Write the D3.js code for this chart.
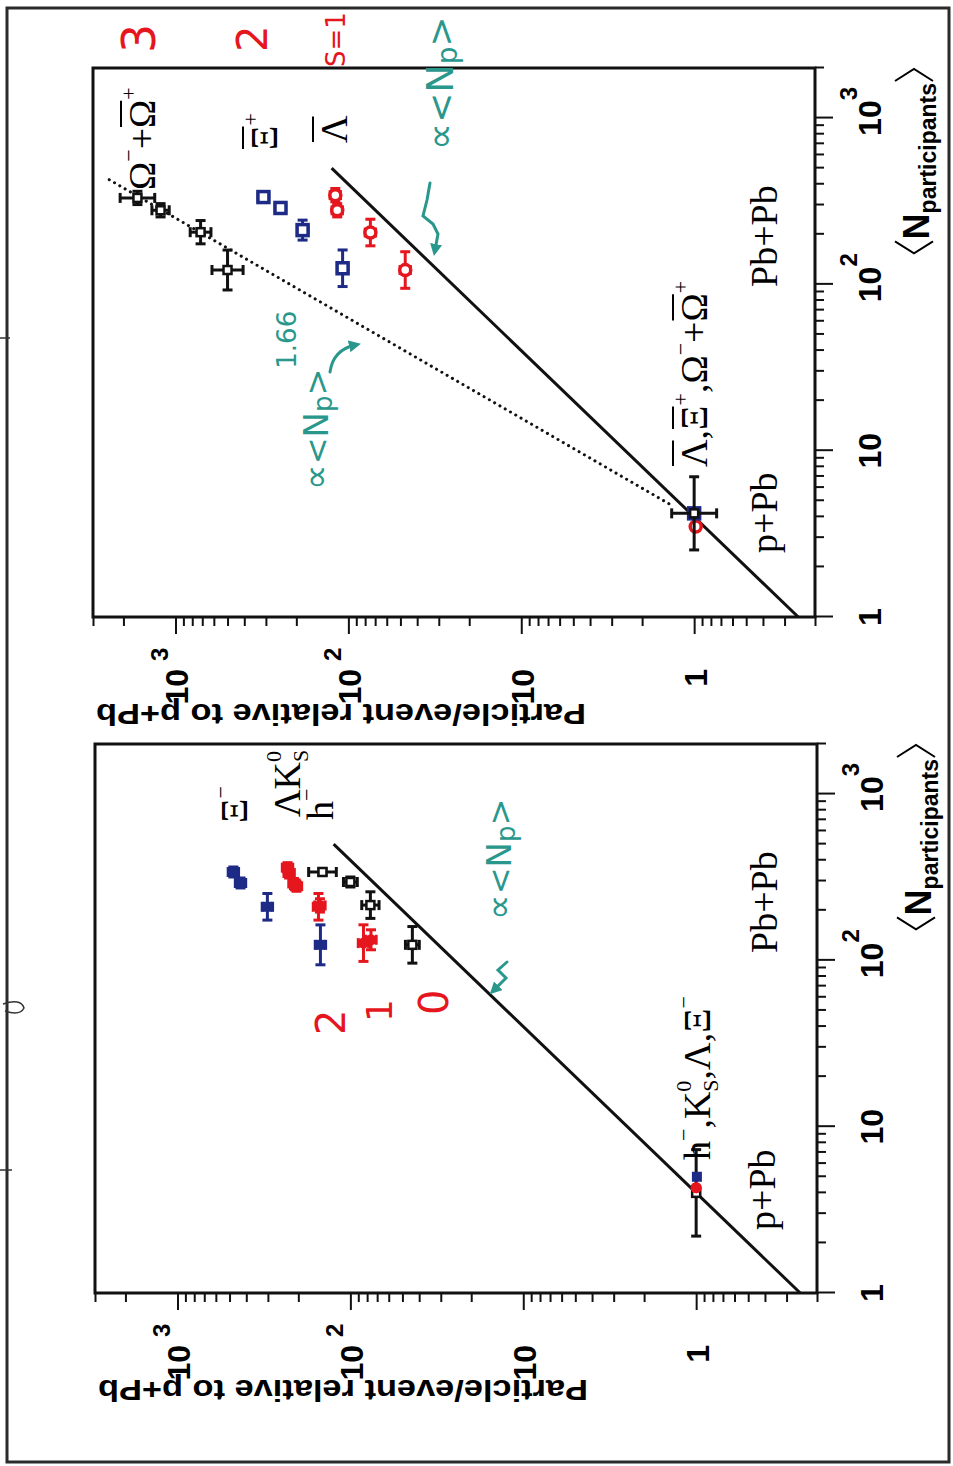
<!DOCTYPE html>
<html>
<head>
<meta charset="utf-8">
<script src="https://cdn.jsdelivr.net/npm/d3@7"></script>
<style>
  body { margin: 0; background: #fff; }
  svg { display: block; }
  .sans { font-family: "Liberation Sans", Arial, sans-serif; font-weight: bold; }
  .serif { font-family: "Liberation Serif", "Times New Roman", serif; }
  .hand { font-family: "DejaVu Sans", sans-serif; }
</style>
</head>
<body>
<div id="frame_div"></div>
<script>
// Scanned figure, turned 90 degrees: each panel is drawn in its own
// (unrotated) frame and the whole group is rotated -90.

// ---- data: <N_part>, yield relative to p+Pb ----
// errors are half widths in decades (log10)

// left panel (drawn lower): h-, K0s, Lambda, Xi-
const hmN = [4.0, 124, 215, 296, 340];
const hmY = [1.0, 43.8, 76.6, 100, 145];
const hmEn = [0.26, 0.11, 0.08, 0.03, 0.02];
const hmEy = [0.02, 0.04, 0.05, 0.04, 0.08];

const lamN = [4.3, 127, 210, 279, 361];
const lamY = [1.0, 84, 153, 205, 231];
const lamEn = [0, 0.11, 0.08, 0.03, 0.03];
const lamEy = [0, 0.03, 0.03, 0.03, 0.03];

const k0sN = [4.3, 133, 214, 290, 335];
const k0sY = [1.0, 76, 150, 212, 226];
const k0sEn = [0, 0.06, 0.04, 0.03, 0.03];
const k0sEy = [0, 0.03, 0.03, 0.03, 0.03];

const xiN = [5.0, 124, 210, 292, 340];
const xiY = [0.99, 149, 302, 432, 475];
const xiEn = [0, 0.12, 0.08, 0.03, 0.03];
const xiEy = [0, 0.03, 0.03, 0.03, 0.03];

// right panel (drawn upper): Omega + anti-Omega, anti-Xi, anti-Lambda
const omN = [4.2, 122, 206, 279, 331];
const omY = [1.0, 500, 716, 1220, 1660];
const omEn = [0.22, 0.12, 0.07, 0.04, 0.04];
const omEy = [0.13, 0.09, 0.06, 0.05, 0.1];

const xibN = [4.2, 125, 212, 288, 335];
const xibY = [1.0, 108, 184, 247, 310];
const xibEn = [0, 0.11, 0.06, 0.03, 0.03];
const xibEy = [0, 0.03, 0.03, 0.03, 0.03];

const lambN = [3.5, 122, 205, 279, 344];
const lambY = [0.98, 46.9, 74.6, 116, 119];
const lambEn = [0, 0.11, 0.08, 0.04, 0.04];
const lambEy = [0, 0.03, 0.03, 0.03, 0.03];

// reference lines (end points)
const propN = [1, 500], propY = [0.25, 125];        // ~ <Np>
const fitN = [4.8, 440], fitY = [1.4, 2550];        // ~ <Np>^1.66

// ticks
const xMajor = [1, 10, 100, 1000];
const xMajorSup = ["", "", "2", "3"];
const xMinor = [2, 3, 4, 5, 6, 7, 8, 9, 20, 30, 40, 50, 60, 70, 80, 90,
                200, 300, 400, 500, 600, 700, 800, 900, 2000];
const yMajor = [1, 10, 100, 1000];
const yMajorSup = ["", "", "2", "3"];
const yMinor = [0.2, 0.3, 0.4, 0.5, 0.6, 0.7, 0.8, 0.9, 2, 3, 4, 5, 6, 7, 8, 9,
                20, 30, 40, 50, 60, 70, 80, 90, 200, 300, 400, 500, 600, 700, 800, 900,
                2000, 3000];

// ---- layout ----
const W = 549, H = 722;
const BLUE = "#1d2a86", RED = "#e5161d", TEAL = "#2a978c";

const X_SCALE = d3.scaleLog().domain([1, 2000]).range([0, W]);
const Y_SCALE = d3.scaleLog().domain([0.2, 3000]).range([H, 0]);

const FRAME = d3.select("#frame_div")
  .append("svg")
    .attr("width", 953)
    .attr("height", 1466);

const defs = FRAME.append("defs");
defs.append("marker")
    .attr("id", "head")
    .attr("viewBox", "0 0 10 10")
    .attr("refX", 5).attr("refY", 5)
    .attr("markerWidth", 4).attr("markerHeight", 4)
    .attr("orient", "auto")
  .append("path")
    .attr("d", "M0,0 L10,5 L0,10 z")
    .attr("fill", TEAL);

// outer border of the scan + a few pen marks on the left edge
FRAME.append("rect")
    .attr("x", 7).attr("y", 8).attr("width", 942).attr("height", 1454)
    .attr("fill", "none").attr("stroke", "#2b2b2b").attr("stroke-width", 3);
FRAME.append("path")
    .attr("d", "M0,338 L10,338 M0,1170 L12,1170 M3,1004 q18,-6 21,4 q-4,8 -19,3")
    .attr("fill", "none").attr("stroke", "#333").attr("stroke-width", 1.5);

// lay out a run of text pieces (sup/sub, overbars, brackets)
function rich(parent, px, py, segs, opts) {
  const g = parent.append("g").attr("class", opts.cls).attr("fill", opts.color || "#000");
  let cx = 0;
  segs.forEach(s => {
    if (s.br) {
      const w = s.w;
      const pts = s.br === "l"
        ? [[w - 2, -34], [2, -15], [w - 2, 4]]
        : [[2, -34], [w - 2, -15], [2, 4]];
      g.append("polyline")
        .attr("points", pts.map(p => (cx + p[0]) + "," + p[1]).join(" "))
        .attr("fill", "none").attr("stroke", opts.color || "#000").attr("stroke-width", 2);
      cx += w;
      return;
    }
    const t = g.append("text")
      .attr("x", cx).attr("y", s.dy || 0)
      .attr("font-size", s.s)
      .text(s.t);
    if (s.len) t.attr("textLength", s.len).attr("lengthAdjust", "spacingAndGlyphs");
    const w = s.len || t.node().getComputedTextLength();
    if (s.bar) {
      g.append("line")
        .attr("x1", cx + 1).attr("x2", cx + w - 1)
        .attr("y1", -s.bar).attr("y2", -s.bar)
        .attr("stroke", opts.color || "#000").attr("stroke-width", 2);
    }
    if (!s.stack) cx += w;
  });
  const shift = opts.anchor === "end" ? -cx : 0;
  g.attr("transform", `translate(${px},${py})` + (opts.rot ? ` rotate(${opts.rot})` : "") +
    ` translate(${shift},0)`);
  return g;
}

function drawAxes(g) {
  const styleAxis = a => {
    a.select(".domain").remove();
    a.selectAll("line").attr("stroke", "#111").attr("stroke-width", 2);
  };
  g.append("g").attr("transform", `translate(0,${H})`)
    .call(d3.axisBottom(X_SCALE).tickValues(xMinor).tickSize(9).tickFormat(""))
    .call(styleAxis);
  g.append("g").attr("transform", `translate(0,${H})`)
    .call(d3.axisBottom(X_SCALE).tickValues(xMajor).tickSize(18).tickFormat(""))
    .call(styleAxis);
  g.append("g")
    .call(d3.axisLeft(Y_SCALE).tickValues(yMinor).tickSize(9).tickFormat(""))
    .call(styleAxis);
  g.append("g")
    .call(d3.axisLeft(Y_SCALE).tickValues(yMajor).tickSize(17).tickFormat(""))
    .call(styleAxis);

  // tick labels: 1, 10, 10^2, 10^3
  xMajor.forEach((v, i) => {
    const t = g.append("text").attr("class", "sans")
      .attr("x", X_SCALE(v)).attr("y", H + 66)
      .attr("text-anchor", "middle").attr("font-size", 32)
      .text(v === 1 ? "1" : "10");
    if (xMajorSup[i]) {
      const w = t.node().getComputedTextLength();
      g.append("text").attr("class", "sans")
        .attr("x", X_SCALE(v) + w / 2).attr("y", H + 42)
        .attr("font-size", 24).text(xMajorSup[i]);
    }
  });
  yMajor.forEach((v, i) => {
    g.append("text").attr("class", "sans")
      .attr("x", -52).attr("y", Y_SCALE(v) + 13)
      .attr("text-anchor", "end").attr("font-size", 32)
      .text(v === 1 ? "1" : "10");
    if (yMajorSup[i]) {
      g.append("text").attr("class", "sans")
        .attr("x", -44).attr("y", Y_SCALE(v) - 7)
        .attr("font-size", 24).text(yMajorSup[i]);
    }
  });

  rich(g, -87, 3, [{t: "Particle/event relative to p+Pb", s: 30, len: 490}],
    {cls: "sans", anchor: "end", rot: -90});
  rich(g, W + 1, H + 114,
    [{br: "l", w: 16}, {t: "N", s: 36}, {t: "participants", s: 23, dy: 7}, {br: "r", w: 16}],
    {cls: "sans", anchor: "end"});

  g.append("rect").attr("width", W).attr("height", H)
    .attr("fill", "none").attr("stroke", "#111").attr("stroke-width", 3);
}

function drawLine(g, ns, ys, dotted) {
  const line = d3.line().x(d => X_SCALE(d[0])).y(d => Y_SCALE(d[1]));
  const p = g.append("path")
    .attr("d", line(ns.map((n, i) => [n, ys[i]])))
    .attr("fill", "none").attr("stroke", "#111").attr("stroke-width", 3);
  if (dotted) p.attr("stroke-dasharray", "0.1 6").attr("stroke-linecap", "round");
}

function drawSeries(g, ns, ys, en, ey, color, shape) {
  const pts = ns.map((n, i) => ({n: n, y: ys[i], en: en[i], ey: ey[i]}));
  const eg = g.append("g").attr("stroke", color).attr("stroke-width", 3);
  const cap = 5;
  pts.forEach(p => {
    const cx = X_SCALE(p.n), cy = Y_SCALE(p.y);
    if (p.en > 0) {
      const a = X_SCALE(p.n * Math.pow(10, -p.en)), b = X_SCALE(p.n * Math.pow(10, p.en));
      eg.append("line").attr("x1", a).attr("x2", b).attr("y1", cy).attr("y2", cy);
      [a, b].forEach(e => eg.append("line").attr("x1", e).attr("x2", e)
        .attr("y1", cy - cap).attr("y2", cy + cap));
    }
    if (p.ey > 0) {
      const a = Y_SCALE(p.y * Math.pow(10, -p.ey)), b = Y_SCALE(p.y * Math.pow(10, p.ey));
      eg.append("line").attr("x1", cx).attr("x2", cx).attr("y1", a).attr("y2", b);
      [a, b].forEach(e => eg.append("line").attr("y1", e).attr("y2", e)
        .attr("x1", cx - cap).attr("x2", cx + cap));
    }
  });
  const mg = g.append("g");
  pts.forEach(p => {
    const cx = X_SCALE(p.n), cy = Y_SCALE(p.y);
    if (shape === "fsq") {
      mg.append("rect").attr("x", cx - 5).attr("y", cy - 5).attr("width", 10).attr("height", 10)
        .attr("fill", color);
    } else if (shape === "osq") {
      mg.append("rect").attr("x", cx - 5.5).attr("y", cy - 5.5).attr("width", 11).attr("height", 11)
        .attr("fill", "#fff").attr("stroke", color).attr("stroke-width", 3.5);
    } else if (shape === "fci") {
      mg.append("circle").attr("cx", cx).attr("cy", cy).attr("r", 5.5).attr("fill", color);
    } else if (shape === "oci") {
      mg.append("circle").attr("cx", cx).attr("cy", cy).attr("r", 5.5)
        .attr("fill", "#fff").attr("stroke", color).attr("stroke-width", 3.5);
    } else {
      mg.append("rect").attr("x", cx - 4).attr("y", cy - 4).attr("width", 8).attr("height", 8)
        .attr("fill", "#fff").attr("stroke", color).attr("stroke-width", 2.5);
    }
  });
}

const S = 38, SS = 22;
const BIG = {cls: "serif"};

// ================= upper picture panel (right panel of the figure) =================
const UP = FRAME.append("g").attr("transform", "translate(93,617) rotate(-90)");
drawAxes(UP);
drawLine(UP, propN, propY, false);
drawLine(UP, fitN, fitY, true);
drawSeries(UP, lambN, lambY, lambEn, lambEy, RED, "oci");
drawSeries(UP, xibN, xibY, xibEn, xibEy, BLUE, "osq");
drawSeries(UP, omN, omY, omEn, omEy, "#111", "box");

rich(UP, 330, 684, [{t: "Pb+Pb", s: S}], BIG);
rich(UP, 64, 684, [{t: "p+Pb", s: S}], BIG);
rich(UP, 150, 614, [
  {t: "Λ", s: S, bar: 34}, {t: ",", s: S}, {t: "Ξ", s: S, bar: 34}, {t: "+", s: SS, dy: -19},
  {t: ",", s: S}, {t: "Ω", s: S}, {t: "−", s: SS, dy: -19}, {t: "+", s: S},
  {t: "Ω", s: S, bar: 34}, {t: "+", s: SS, dy: -19}], BIG);
rich(UP, 427, 62, [{t: "Ω", s: S}, {t: "−", s: SS, dy: -19}, {t: "+", s: S},
  {t: "Ω", s: S, bar: 34}, {t: "+", s: SS, dy: -19}], BIG);
rich(UP, 467, 184, [{t: "Ξ", s: S, bar: 34}, {t: "+", s: SS, dy: -19}], BIG);
rich(UP, 474, 254, [{t: "Λ", s: S, bar: 34}], BIG);

// handwriting
const HR = {cls: "hand", color: RED}, HG = {cls: "hand", color: TEAL};
rich(UP, 564, 62, [{t: "3", s: 46}], HR);
rich(UP, 565, 174, [{t: "2", s: 42}], HR);
rich(UP, 550, 252, [{t: "S=1", s: 26}], HR);
rich(UP, 127, 235, [{t: "∝", s: 36}, {t: " <", s: 32}, {t: "N", s: 34}, {t: "p", s: 26, dy: 4},
  {t: ">", s: 32}, {t: "1.66", s: 26, dy: -32}], HG);
rich(UP, 467, 360, [{t: "∝", s: 38}, {t: " <", s: 36}, {t: "N", s: 38}, {t: "p", s: 28, dy: 4},
  {t: ">", s: 36}], HG);

// ================= lower picture panel (left panel of the figure) =================
const LO = FRAME.append("g").attr("transform", "translate(95,1293) rotate(-90)");
drawAxes(LO);
drawLine(LO, propN, propY, false);
drawSeries(LO, hmN, hmY, hmEn, hmEy, "#111", "box");
drawSeries(LO, k0sN, k0sY, k0sEn, k0sEy, RED, "fci");
drawSeries(LO, lamN, lamY, lamEn, lamEy, RED, "fci");
drawSeries(LO, xiN, xiY, xiEn, xiEy, BLUE, "fsq");

rich(LO, 340, 682, [{t: "Pb+Pb", s: S}], BIG);
rich(LO, 63, 680, [{t: "p+Pb", s: S}], BIG);
rich(LO, 133, 615, [
  {t: "h", s: S}, {t: "−", s: SS, dy: -19}, {t: ",", s: S}, {t: "K", s: S},
  {t: "0", s: SS, dy: -19, stack: true}, {t: "S", s: SS, dy: 8}, {t: ",", s: S},
  {t: "Λ", s: S}, {t: ",", s: S}, {t: "Ξ", s: S}, {t: "−", s: SS, dy: -19}], BIG);
rich(LO, 470, 152, [{t: "Ξ", s: S}, {t: "−", s: SS, dy: -19}], BIG);
rich(LO, 476, 205, [{t: "Λ", s: S}, {t: "K", s: S},
  {t: "0", s: SS, dy: -19, stack: true}, {t: "S", s: SS, dy: 8}], BIG);
rich(LO, 473, 238, [{t: "h", s: S}, {t: "−", s: SS, dy: -19}], BIG);

rich(LO, 258, 250, [{t: "2", s: 40}], HR);
rich(LO, 271, 297, [{t: "1", s: 36}], HR);
rich(LO, 278, 353, [{t: "0", s: 40}], HR);
rich(LO, 373, 416, [{t: "∝", s: 36}, {t: " <", s: 32}, {t: "N", s: 34}, {t: "p", s: 26, dy: 4},
  {t: ">", s: 32}], HG);

// pen arrows (picture coordinates)
const pen = FRAME.append("g").attr("fill", "none").attr("stroke", TEAL)
  .attr("stroke-width", 3).attr("stroke-linecap", "round");
pen.append("path").attr("d", "M330,372 Q333,350 355,345").attr("marker-end", "url(#head)");
pen.append("path").attr("d", "M430,183 L427,200 L423,216 L433,224 L438,234 L435,250")
  .attr("marker-end", "url(#head)");
pen.append("path").attr("d", "M507,962 L498,970 L506,978 L494,990")
  .attr("marker-end", "url(#head)");
</script>
</body>
</html>
